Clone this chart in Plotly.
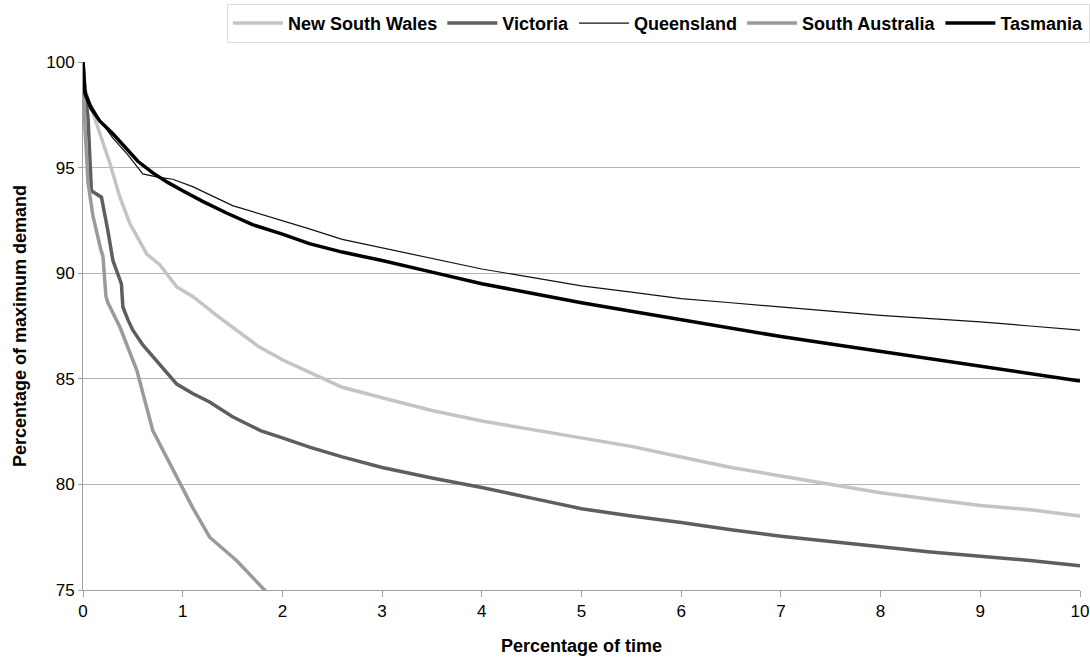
import plotly.graph_objects as go

# Percentage of time (x) and percentage of maximum demand (y) per state
nsw_x = [0, 0.02, 0.05, 0.1, 0.17, 0.27, 0.37, 0.47, 0.64, 0.77, 0.94, 1.1, 1.37, 1.77, 2.0, 2.27, 2.6, 3, 3.5, 4, 4.5, 5, 5.5, 6, 6.5, 7, 7.5, 8, 8.5, 9, 9.5, 10]
nsw_y = [100, 98.8, 98.2, 97.6, 96.6, 95.2, 93.6, 92.35, 90.9, 90.4, 89.35, 88.9, 87.9, 86.5, 85.9, 85.3, 84.6, 84.1, 83.5, 83.0, 82.6, 82.2, 81.8, 81.3, 80.8, 80.4, 80.0, 79.6, 79.3, 79.0, 78.8, 78.5]

vic_x = [0, 0.02, 0.05, 0.084, 0.134, 0.185, 0.25, 0.3, 0.385, 0.4, 0.45, 0.5, 0.6, 0.77, 0.94, 1.1, 1.27, 1.5, 1.78, 2.0, 2.28, 2.6, 3, 3.5, 4, 4.5, 5, 5.5, 6, 6.5, 7, 7.5, 8, 8.5, 9, 9.5, 10]
vic_y = [100, 98.6, 97.4, 93.9, 93.75, 93.6, 92.0, 90.6, 89.5, 88.4, 87.8, 87.3, 86.6, 85.7, 84.75, 84.3, 83.9, 83.2, 82.55, 82.2, 81.75, 81.3, 80.8, 80.3, 79.85, 79.35, 78.85, 78.5, 78.2, 77.85, 77.55, 77.3, 77.05, 76.8, 76.6, 76.4, 76.15]

qld_x = [0, 0.02, 0.08, 0.17, 0.3, 0.45, 0.6, 0.75, 0.9, 1.1, 1.5, 2.0, 2.27, 2.6, 3, 3.5, 4, 4.5, 5, 5.5, 6, 6.5, 7, 7.5, 8, 8.5, 9, 9.5, 10]
qld_y = [100, 98.7, 98.0, 97.25, 96.4, 95.6, 94.7, 94.55, 94.45, 94.1, 93.2, 92.5, 92.1, 91.6, 91.2, 90.7, 90.2, 89.8, 89.4, 89.1, 88.8, 88.6, 88.4, 88.2, 88.0, 87.85, 87.7, 87.5, 87.3]

sa_x = [0, 0.01, 0.02, 0.05, 0.1, 0.18, 0.2, 0.23, 0.25, 0.37, 0.54, 0.7, 0.94, 1.1, 1.27, 1.54, 1.82, 1.9]
sa_y = [100, 98.0, 96.9, 94.3, 92.7, 91.1, 90.8, 88.9, 88.6, 87.45, 85.4, 82.55, 80.35, 78.9, 77.5, 76.4, 75.0, 74.6]

tas_x = [0, 0.02, 0.08, 0.17, 0.3, 0.43, 0.55, 0.7, 0.85, 1.0, 1.2, 1.44, 1.7, 2.0, 2.27, 2.6, 3, 3.5, 4, 4.5, 5, 5.5, 6, 6.5, 7, 7.5, 8, 8.5, 9, 9.5, 10]
tas_y = [100, 98.5, 97.8, 97.2, 96.6, 95.95, 95.3, 94.75, 94.3, 93.9, 93.4, 92.85, 92.3, 91.85, 91.4, 91.0, 90.6, 90.05, 89.5, 89.05, 88.6, 88.2, 87.8, 87.4, 87.0, 86.65, 86.3, 85.95, 85.6, 85.25, 84.9]

series = [
    ("New South Wales", nsw_x, nsw_y, "#c4c4c4", 3.5),
    ("Victoria", vic_x, vic_y, "#5e5e5e", 3.5),
    ("Queensland", qld_x, qld_y, "#111111", 1.2),
    ("South Australia", sa_x, sa_y, "#9a9a9a", 3.5),
    ("Tasmania", tas_x, tas_y, "#000000", 3.5),
]

fig = go.Figure()
for name, xs, ys, color, w in series:
    fig.add_trace(go.Scatter(x=xs, y=ys, mode="lines", name=name,
                             line=dict(color=color, width=w)))

font = "Liberation Sans, Arial, sans-serif"
fig.update_layout(
    width=1090, height=657,
    margin=dict(l=83, r=10, t=62, b=67, autoexpand=False),
    plot_bgcolor="white", paper_bgcolor="white",
    font=dict(family=font, size=17, color="black"),
    showlegend=True,
    legend=dict(orientation="h", x=1.01, xanchor="right", y=1.11, yanchor="top",
                bordercolor="#dddddd", borderwidth=1,
                font=dict(family=font, size=18, color="black", weight="bold"),
                itemwidth=50, tracegroupgap=0),
    xaxis=dict(range=[0, 10], dtick=1, tick0=0, showgrid=False,
               showline=True, linecolor="#a0a0a0", linewidth=1,
               ticks="outside", tickcolor="#a0a0a0", ticklen=6,
               zeroline=False, automargin=False,
               title=dict(text="<b>Percentage of time</b>", font=dict(size=18), standoff=18),
               tickfont=dict(size=17)),
    yaxis=dict(range=[75, 100], dtick=5, showgrid=True, gridcolor="#b4b4b4", gridwidth=1,
               showline=True, linecolor="#a0a0a0", linewidth=1,
               ticks="outside", tickcolor="#a0a0a0", ticklen=4,
               zeroline=False, automargin=False,
               title=dict(text="<b>Percentage of maximum demand</b>", font=dict(size=18), standoff=14),
               tickfont=dict(size=17)),
)

fig.write_html("out.html", config={"displayModeBar": False},
               post_script="document.body.style.margin='0';")
